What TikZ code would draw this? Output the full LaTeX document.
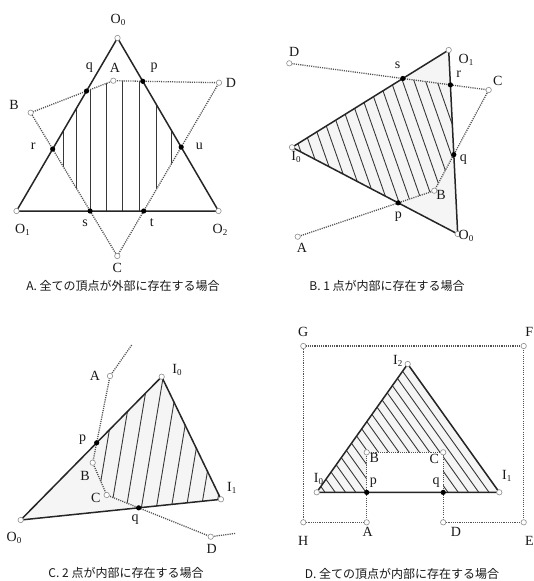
\documentclass[tikz,border=0pt]{standalone}
\usepackage{fontspec}
\setmainfont{Liberation Serif}
\newfontfamily\jpfont{Noto Sans CJK JP}
\newcommand{\lsb}[1]{\raisebox{-2pt}{\fontsize{9}{9}\selectfont #1}}
\tikzset{
  tri/.style={line width=1.5pt, draw=black!85, line join=round},
  trifill/.style={fill=black!4},
  dots/.style={line width=1.3pt, draw=black!68, dash pattern=on 1.1pt off 1.1pt},
  hatchline/.style={line width=0.9pt, draw=black!78},
  vtx/.style={draw=black!45, fill=white, line width=0.6pt},
  ipt/.style={fill=black},
  lbl/.style={font=\fontsize{14}{14}\selectfont, text=black!90, inner sep=0pt},
  captext/.style={font=\jpfont\fontsize{12}{12}\selectfont, text=black!90, inner sep=0pt}
}
\begin{document}
\begin{tikzpicture}[x=1pt,y=-1pt]
\useasboundingbox[fill=white] (0,0) rectangle (533,581);

% ================= Panel A =================
\coordinate (aOa) at (117.5,38);
\coordinate (aOb) at (16.5,211);
\coordinate (aOc) at (218.5,211);
\coordinate (aA) at (113.3,80.7);
\coordinate (aD) at (219,82.7);
\coordinate (aC) at (117.3,256);
\coordinate (aB) at (30.7,112.7);
\coordinate (aXq) at (intersection of aB--aA and aOa--aOb);
\coordinate (aXp) at (intersection of aA--aD and aOa--aOc);
\coordinate (aXr) at (intersection of aB--aC and aOa--aOb);
\coordinate (aXu) at (intersection of aD--aC and aOa--aOc);
\coordinate (aXs) at (intersection of aB--aC and aOb--aOc);
\coordinate (aXt) at (intersection of aD--aC and aOb--aOc);
\begin{scope}
  \clip (aOa) -- (aOb) -- (aOc) -- cycle;
  \clip (aB) -- (aA) -- (aD) -- (aC) -- cycle;
  \foreach \x in {63.3,76.7,90,106.7,122.7,139.3,156.7,171.7}
    \draw[hatchline] (\x,30) -- (\x,260);
\end{scope}
\draw[tri] (aOa) -- (aOb) -- (aOc) -- cycle;
\draw[dots] (aB) -- (aA) -- (aD) -- (aC) -- cycle;
\foreach \p in {aOa,aOb,aOc,aA,aB,aC,aD} \draw[vtx] (\p) circle[radius=2.7pt];
\foreach \p in {aXp,aXq,aXr,aXs,aXt,aXu} \fill[ipt] (\p) circle[radius=2.6pt];
\node[lbl] (laOa) at (118,20) {O\lsb{0}};
\node[lbl] (laOb) at (22.5,230) {O\lsb{1}};
\node[lbl] (laOc) at (220,230) {O\lsb{2}};
\node[lbl] (laA) at (115,68) {A};
\node[lbl] (laB) at (14,105) {B};
\node[lbl] (laC) at (117.3,268) {C};
\node[lbl] (laD) at (231,82.7) {D};
\node[lbl] (laq) at (89.3,68) {q};
\node[lbl] (lap) at (154,68) {p};
\node[lbl] (lar) at (33.3,146) {r};
\node[lbl] (lau) at (199.3,146) {u};
\node[lbl] (las) at (85,223) {s};
\node[lbl] (lat) at (151.7,223) {t};
\node[captext] (capA) at (123,286) {A. 全ての頂点が外部に存在する場合};

% ================= Panel B =================
\coordinate (bOb) at (448.7,50);
\coordinate (bIa) at (292,147.3);
\coordinate (bOa) at (457.7,234);
\coordinate (bD) at (289.3,63.3);
\coordinate (bC) at (488.7,90);
\coordinate (bB) at (434.3,190.7);
\coordinate (bA) at (297.7,236.7);
\coordinate (bXs) at (intersection of bD--bC and bIa--bOb);
\coordinate (bXr) at (intersection of bD--bC and bOb--bOa);
\coordinate (bXq) at (intersection of bC--bB and bOb--bOa);
\coordinate (bXp) at (intersection of bB--bA and bIa--bOa);
\fill[trifill] (bOb) -- (bIa) -- (bOa) -- cycle;
\begin{scope}
  \clip (bOb) -- (bIa) -- (bOa) -- cycle;
  \clip (bD) -- (bC) -- (bB) -- (bA) -- (250,240) -- (250,60) -- cycle;
  \foreach \k in {-12,...,8}
    \draw[hatchline] ({403.7+11.5*\k-38.5},40) -- ({403.7+11.5*\k+35},250);
\end{scope}
\draw[tri] (bOb) -- (bIa) -- (bOa) -- cycle;
\draw[dots] (bD) -- (bC) -- (bB) -- (bA);
\foreach \p in {bOb,bIa,bOa,bA,bB,bC,bD} \draw[vtx] (\p) circle[radius=2.7pt];
\foreach \p in {bXp,bXq,bXr,bXs} \fill[ipt] (\p) circle[radius=2.6pt];
\node[lbl] (lbD) at (294.3,51.7) {D};
\node[lbl] (lbOb) at (466,60) {O\lsb{1}};
\node[lbl] (lbs) at (397.7,65.7) {s};
\node[lbl] (lbr) at (458.7,74) {r};
\node[lbl] (lbC) at (497.7,80.7) {C};
\node[lbl] (lbIa) at (296,157) {I\lsb{0}};
\node[lbl] (lbq) at (463.3,159.3) {q};
\node[lbl] (lbB) at (441,195) {B};
\node[lbl] (lbp) at (398.3,216.7) {p};
\node[lbl] (lbOa) at (466,236) {O\lsb{0}};
\node[lbl] (lbA) at (302,247.7) {A};
\node[captext] (capB) at (387,286) {B. 1 点が内部に存在する場合};

% ================= Panel C =================
\coordinate (cIa) at (161.7,376.7);
\coordinate (cIb) at (221,499.3);
\coordinate (cOa) at (20.7,520);
\coordinate (cFa) at (131.7,345);
\coordinate (cA) at (110,376);
\coordinate (cB) at (92.7,462.7);
\coordinate (cC) at (106.7,495);
\coordinate (cD) at (210.7,536.7);
\coordinate (cFb) at (236,533.3);
\coordinate (cXp) at (intersection of cA--cB and cOa--cIa);
\coordinate (cXq) at (intersection of cC--cD and cOa--cIb);
\fill[trifill] (cIa) -- (cIb) -- (cOa) -- cycle;
\begin{scope}
  \clip (cIa) -- (cIb) -- (cOa) -- cycle;
  \clip (cFa) -- (cA) -- (cB) -- (cC) -- (cD) -- (cFb) -- (260,533) -- (260,330) -- (131.7,330) -- cycle;
  \foreach \k in {-3,...,9}
    \draw[hatchline] ({111+15*\k-5},540) -- ({111+15*\k+30},330);
\end{scope}
\draw[tri] (cIa) -- (cIb) -- (cOa) -- cycle;
\draw[dots] (cFa) -- (cA) -- (cB) -- (cC) -- (cD) -- (cFb);
\foreach \p in {cIa,cIb,cOa,cA,cB,cC,cD} \draw[vtx] (\p) circle[radius=2.7pt];
\foreach \p in {cXp,cXq} \fill[ipt] (\p) circle[radius=2.6pt];
\node[lbl] (lcA) at (95,376) {A};
\node[lbl] (lcIa) at (177,370) {I\lsb{0}};
\node[lbl] (lcp) at (82.7,440) {p};
\node[lbl] (lcB) at (85,475.7) {B};
\node[lbl] (lcIb) at (231.7,488.3) {I\lsb{1}};
\node[lbl] (lcC) at (95.7,498.3) {C};
\node[lbl] (lcq) at (135,520) {q};
\node[lbl] (lcOa) at (14,538.3) {O\lsb{0}};
\node[lbl] (lcD) at (211.7,549.3) {D};
\node[captext] (capC) at (126,573) {C. 2 点が内部に存在する場合};

% ================= Panel D =================
\coordinate (dG) at (303.3,346);
\coordinate (dF) at (523.7,346);
\coordinate (dE) at (523.7,522.3);
\coordinate (dH) at (303.3,522.3);
\coordinate (dA) at (366.7,522.3);
\coordinate (dD) at (443.2,522.3);
\coordinate (dB) at (366.7,452.3);
\coordinate (dC) at (443.2,452.3);
\coordinate (dIc) at (407.7,364);
\coordinate (dIa) at (316.7,492.3);
\coordinate (dIb) at (499.3,492.3);
\coordinate (dXp) at (intersection of dA--dB and dIa--dIb);
\coordinate (dXq) at (intersection of dD--dC and dIa--dIb);
\fill[trifill] (dIa) -- (dIb) -- (dIc) -- cycle;
\begin{scope}
  \clip (dIa) -- (dXp) -- (dB) -- (dC) -- (dXq) -- (dIb) -- (dIc) -- cycle;
  \foreach \k in {-2,...,18}
    \draw[hatchline] ({325+10.25*\k+10},506.3) -- ({325+10.25*\k-109.9},338.3);
\end{scope}
\fill[white] (dB) -- (dC) -- (dXq) -- (dXp) -- cycle;
\draw[tri] (dIa) -- (dIb) -- (dIc) -- cycle;
\draw[dots] (dA) -- (dH) -- (dG) -- (dF) -- (dE) -- (dD) -- (dC) -- (dB) -- cycle;
\foreach \p in {dG,dF,dE,dH,dA,dD,dB,dC,dIa,dIb,dIc} \draw[vtx] (\p) circle[radius=2.7pt];
\foreach \p in {dXp,dXq} \fill[ipt] (\p) circle[radius=2.6pt];
\node[lbl] (ldG) at (303.3,331.7) {G};
\node[lbl] (ldF) at (529.3,331.7) {F};
\node[lbl] (ldIc) at (397.7,360.7) {I\lsb{2}};
\node[lbl] (ldB) at (374.3,458.3) {B};
\node[lbl] (ldC) at (434.3,459.3) {C};
\node[lbl] (ldIa) at (318.5,478.5) {I\lsb{0}};
\node[lbl] (ldp) at (373.3,482.7) {p};
\node[lbl] (ldq) at (436,482.7) {q};
\node[lbl] (ldIb) at (506.7,476) {I\lsb{1}};
\node[lbl] (ldA) at (367.7,531.7) {A};
\node[lbl] (ldD) at (456,531.7) {D};
\node[lbl] (ldH) at (303.3,540.7) {H};
\node[lbl] (ldE) at (529.3,540.7) {E};
\node[captext] (capD) at (402,574) {D. 全ての頂点が内部に存在する場合};
\end{tikzpicture}
\end{document}
